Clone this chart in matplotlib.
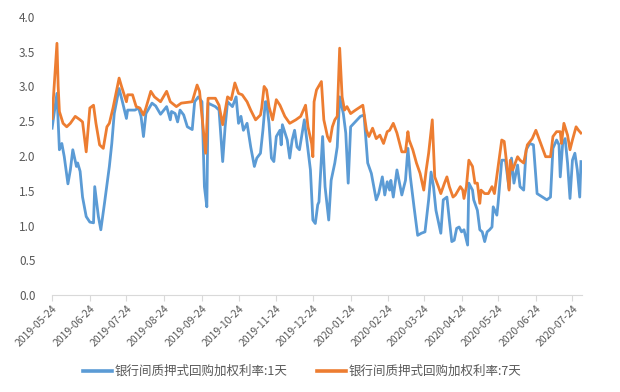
import matplotlib
matplotlib.use('Agg')
import matplotlib.pyplot as plt
import pandas as pd

plt.rcParams['font.family'] = ['Noto Sans CJK SC', 'DejaVu Sans']

# 银行间质押式回购加权利率 (%)
dates_1d = [
    '2019-05-24', '2019-05-28', '2019-05-30', '2019-06-01', '2019-06-03', '2019-06-06',
    '2019-06-08', '2019-06-10', '2019-06-13', '2019-06-14', '2019-06-16', '2019-06-18',
    '2019-06-21', '2019-06-24', '2019-06-27', '2019-06-28', '2019-07-01', '2019-07-03',
    '2019-07-06', '2019-07-10', '2019-07-12', '2019-07-14', '2019-07-18', '2019-07-21',
    '2019-07-24', '2019-07-25', '2019-07-31', '2019-08-03', '2019-08-05', '2019-08-07',
    '2019-08-09', '2019-08-14', '2019-08-17', '2019-08-21', '2019-08-26', '2019-08-29',
    '2019-08-30', '2019-09-02', '2019-09-04', '2019-09-06', '2019-09-09', '2019-09-12',
    '2019-09-16', '2019-09-18', '2019-09-21', '2019-09-24', '2019-09-26', '2019-09-28',
    '2019-09-29', '2019-10-05', '2019-10-08', '2019-10-11', '2019-10-13', '2019-10-15',
    '2019-10-19', '2019-10-22', '2019-10-24', '2019-10-26', '2019-10-28', '2019-10-31',
    '2019-11-03', '2019-11-06', '2019-11-08', '2019-11-11', '2019-11-13', '2019-11-15',
    '2019-11-16', '2019-11-18', '2019-11-20', '2019-11-22', '2019-11-24', '2019-11-27',
    '2019-11-28', '2019-11-29', '2019-12-03', '2019-12-05', '2019-12-07', '2019-12-09',
    '2019-12-11', '2019-12-13', '2019-12-17', '2019-12-19', '2019-12-22', '2019-12-24',
    '2019-12-26', '2019-12-28', '2019-12-29', '2020-01-01', '2020-01-03', '2020-01-06',
    '2020-01-08', '2020-01-11', '2020-01-13', '2020-01-15', '2020-01-18', '2020-01-20',
    '2020-01-22', '2020-01-24', '2020-02-01', '2020-02-04', '2020-02-07', '2020-02-09',
    '2020-02-10', '2020-02-14', '2020-02-16', '2020-02-19', '2020-02-21', '2020-02-23',
    '2020-02-25', '2020-02-26', '2020-02-28', '2020-03-02', '2020-03-06', '2020-03-09',
    '2020-03-11', '2020-03-13', '2020-03-16', '2020-03-19', '2020-03-22', '2020-03-25',
    '2020-03-28', '2020-03-30', '2020-04-01', '2020-04-03', '2020-04-07', '2020-04-09',
    '2020-04-12', '2020-04-14', '2020-04-16', '2020-04-18', '2020-04-20', '2020-04-22',
    '2020-04-24', '2020-04-26', '2020-04-29', '2020-04-30', '2020-05-03', '2020-05-04',
    '2020-05-07', '2020-05-09', '2020-05-11', '2020-05-13', '2020-05-15', '2020-05-17',
    '2020-05-19', '2020-05-20', '2020-05-23', '2020-05-24', '2020-05-27', '2020-05-30',
    '2020-06-02', '2020-06-04', '2020-06-06', '2020-06-09', '2020-06-11', '2020-06-14',
    '2020-06-16', '2020-06-19', '2020-06-22', '2020-06-25', '2020-07-03', '2020-07-06',
    '2020-07-08', '2020-07-11', '2020-07-13', '2020-07-14', '2020-07-16', '2020-07-18',
    '2020-07-20', '2020-07-22', '2020-07-24', '2020-07-26', '2020-07-28', '2020-07-30',
    '2020-07-31',
]
rate_1d = [
    2.40, 2.90, 2.09, 2.18, 1.99, 1.60,
    1.80, 2.09, 1.85, 1.90, 1.78, 1.41,
    1.13, 1.05, 1.04, 1.56, 1.13, 0.94,
    1.32, 1.85, 2.18, 2.61, 2.97, 2.76,
    2.54, 2.66, 2.66, 2.69, 2.57, 2.28,
    2.61, 2.76, 2.72, 2.60, 2.71, 2.52,
    2.64, 2.61, 2.49, 2.66, 2.59, 2.42,
    2.38, 2.78, 2.85, 2.78, 1.56, 1.27,
    2.76, 2.71, 2.66, 1.92, 2.42, 2.78,
    2.71, 2.85, 2.47, 2.57, 2.37, 2.47,
    2.13, 1.85, 1.97, 2.04, 2.37, 2.78,
    2.78, 2.47, 1.97, 1.92, 2.28, 2.37,
    2.16, 2.45, 2.23, 1.97, 2.23, 2.37,
    2.13, 2.09, 2.52, 2.23, 1.80, 1.08,
    1.03, 1.30, 1.34, 2.28, 1.56, 1.08,
    1.65, 1.90, 2.13, 2.85, 2.61, 2.33,
    1.61, 2.42, 2.57, 2.59, 1.90, 1.80,
    1.75, 1.37, 1.46, 1.70, 1.44, 1.63,
    1.51, 1.65, 1.41, 1.80, 1.44, 1.65,
    2.11, 1.70, 1.27, 0.86, 0.89, 0.91,
    1.37, 1.77, 1.56, 1.22, 0.89, 1.37,
    1.41, 1.08, 0.77, 0.79, 0.96, 0.98,
    0.91, 0.94, 0.72, 1.61, 1.51, 1.37,
    1.22, 0.94, 0.91, 0.77, 0.91, 0.94,
    0.98, 1.27, 1.15, 1.32, 1.94, 1.94,
    1.53, 1.97, 1.61, 1.87, 1.56, 1.51,
    2.09, 2.18, 2.16, 1.46, 1.37, 1.41,
    2.11, 2.23, 2.16, 1.70, 2.18, 2.25,
    1.90, 1.39, 1.94, 2.04, 1.80, 1.41,
    1.92,
]

dates_7d = [
    '2019-05-24', '2019-05-28', '2019-05-29', '2019-05-30', '2019-06-02', '2019-06-05',
    '2019-06-08', '2019-06-12', '2019-06-16', '2019-06-18', '2019-06-21', '2019-06-24',
    '2019-06-27', '2019-06-29', '2019-07-02', '2019-07-05', '2019-07-08', '2019-07-10',
    '2019-07-13', '2019-07-18', '2019-07-20', '2019-07-24', '2019-07-25', '2019-07-29',
    '2019-08-01', '2019-08-04', '2019-08-07', '2019-08-09', '2019-08-13', '2019-08-16',
    '2019-08-21', '2019-08-26', '2019-08-29', '2019-09-03', '2019-09-07', '2019-09-16',
    '2019-09-20', '2019-09-22', '2019-09-27', '2019-09-29', '2019-10-05', '2019-10-08',
    '2019-10-11', '2019-10-15', '2019-10-18', '2019-10-21', '2019-10-24', '2019-10-27',
    '2019-10-31', '2019-11-03', '2019-11-07', '2019-11-11', '2019-11-12', '2019-11-14',
    '2019-11-16', '2019-11-18', '2019-11-21', '2019-11-24', '2019-11-27', '2019-12-01',
    '2019-12-05', '2019-12-10', '2019-12-14', '2019-12-18', '2019-12-20', '2019-12-23',
    '2019-12-24', '2019-12-25', '2019-12-27', '2019-12-31', '2020-01-02', '2020-01-05',
    '2020-01-07', '2020-01-09', '2020-01-11', '2020-01-13', '2020-01-15', '2020-01-17',
    '2020-01-19', '2020-01-21', '2020-01-24', '2020-01-28', '2020-02-03', '2020-02-06',
    '2020-02-08', '2020-02-11', '2020-02-14', '2020-02-17', '2020-02-20', '2020-02-23',
    '2020-02-25', '2020-02-28', '2020-03-02', '2020-03-06', '2020-03-09', '2020-03-11',
    '2020-03-12', '2020-03-15', '2020-03-18', '2020-03-21', '2020-03-24', '2020-03-26',
    '2020-03-28', '2020-03-31', '2020-04-02', '2020-04-05', '2020-04-07', '2020-04-10',
    '2020-04-12', '2020-04-14', '2020-04-17', '2020-04-19', '2020-04-23', '2020-04-25',
    '2020-04-26', '2020-04-28', '2020-04-30', '2020-05-03', '2020-05-05', '2020-05-07',
    '2020-05-09', '2020-05-10', '2020-05-13', '2020-05-16', '2020-05-19', '2020-05-21',
    '2020-05-24', '2020-05-27', '2020-05-29', '2020-05-31', '2020-06-02', '2020-06-03',
    '2020-06-05', '2020-06-09', '2020-06-11', '2020-06-14', '2020-06-17', '2020-06-21',
    '2020-06-24', '2020-06-28', '2020-07-02', '2020-07-06', '2020-07-08', '2020-07-11',
    '2020-07-14', '2020-07-15', '2020-07-17', '2020-07-20', '2020-07-22', '2020-07-24',
    '2020-07-27', '2020-07-29', '2020-07-31',
]
rate_7d = [
    2.54, 3.62, 3.00, 2.64, 2.47, 2.42,
    2.47, 2.57, 2.52, 2.49, 2.06, 2.69,
    2.73, 2.47, 2.16, 2.11, 2.42, 2.47,
    2.69, 3.12, 3.00, 2.78, 2.88, 2.88,
    2.71, 2.69, 2.59, 2.69, 2.93, 2.85,
    2.78, 2.93, 2.78, 2.71, 2.76, 2.78,
    3.02, 2.93, 2.04, 2.83, 2.83, 2.73,
    2.45, 2.85, 2.81, 3.05, 2.90, 2.88,
    2.78, 2.66, 2.52, 2.59, 2.69, 3.00,
    2.95, 2.71, 2.52, 2.81, 2.73, 2.57,
    2.47, 2.52, 2.57, 2.73, 2.42, 2.18,
    1.99, 2.78, 2.95, 3.07, 2.52, 2.28,
    2.21, 2.42, 2.52, 2.57, 3.55, 2.85,
    2.66, 2.71, 2.61, 2.66, 2.73, 2.37,
    2.28, 2.40, 2.25, 2.30, 2.18, 2.35,
    2.37, 2.47, 2.33, 2.06, 2.06, 2.35,
    2.23, 2.09, 1.90, 1.75, 1.51, 1.80,
    2.04, 2.52, 1.70, 1.56, 1.46, 1.61,
    1.70, 1.56, 1.41, 1.44, 1.56, 1.51,
    1.39, 1.56, 1.94, 1.85, 1.61, 1.61,
    1.32, 1.51, 1.46, 1.46, 1.56, 1.46,
    1.85, 2.23, 2.21, 1.90, 1.51, 1.94,
    1.80, 1.99, 1.94, 1.90, 2.16, 2.25,
    2.37, 2.18, 1.99, 1.99, 2.28, 2.35,
    2.35, 2.18, 2.47, 2.30, 2.09, 2.23,
    2.42, 2.37, 2.33,
]

series_names = ['银行间质押式回购加权利率:1天', '银行间质押式回购加权利率:7天']
colors = ['#5B9BD5', '#ED7D31']

fig = plt.figure(figsize=(6.2, 3.92), dpi=100)
ax = fig.add_axes([0.084, 0.247, 0.855, 0.71])

ax.plot(pd.to_datetime(dates_1d), rate_1d, color=colors[0], lw=2.0,
        solid_joinstyle='round', label=series_names[0])
ax.plot(pd.to_datetime(dates_7d), rate_7d, color=colors[1], lw=2.0,
        solid_joinstyle='round', label=series_names[1])

# Axis styling (Excel look)
ax.set_ylim(0, 4.0)
ax.set_yticks([0, 0.5, 1.0, 1.5, 2.0, 2.5, 3.0, 3.5, 4.0])
ax.set_yticklabels([f"{v:.1f}" for v in ax.get_yticks()], fontsize=8.5, color='#595959')
ax.set_xlim(pd.Timestamp('2019-05-24'), pd.Timestamp('2020-08-01'))
xticks = pd.date_range('2019-05-24', '2020-07-24', freq=pd.DateOffset(months=1))
ax.set_xticks(xticks)
ax.set_xticklabels([d.strftime('%Y-%m-%d') for d in xticks], rotation=45,
                   ha='right', rotation_mode='anchor', fontsize=7.5, color='#595959')
for s in ['top', 'right', 'left']:
    ax.spines[s].set_visible(False)
ax.spines['bottom'].set_color('#D9D9D9')
ax.tick_params(axis='y', length=0, pad=12)
ax.tick_params(axis='x', length=4, color='#D9D9D9', pad=2)

leg = fig.legend(loc='center', bbox_to_anchor=(0.487, 0.052), ncol=2, frameon=False,
                 fontsize=9, handlelength=2.3, columnspacing=2.4, handletextpad=0.2,
                 labelcolor='#595959')
for h in leg.legend_handles:
    h.set_linewidth(2.6)

plt.savefig('out.png', dpi=100)
